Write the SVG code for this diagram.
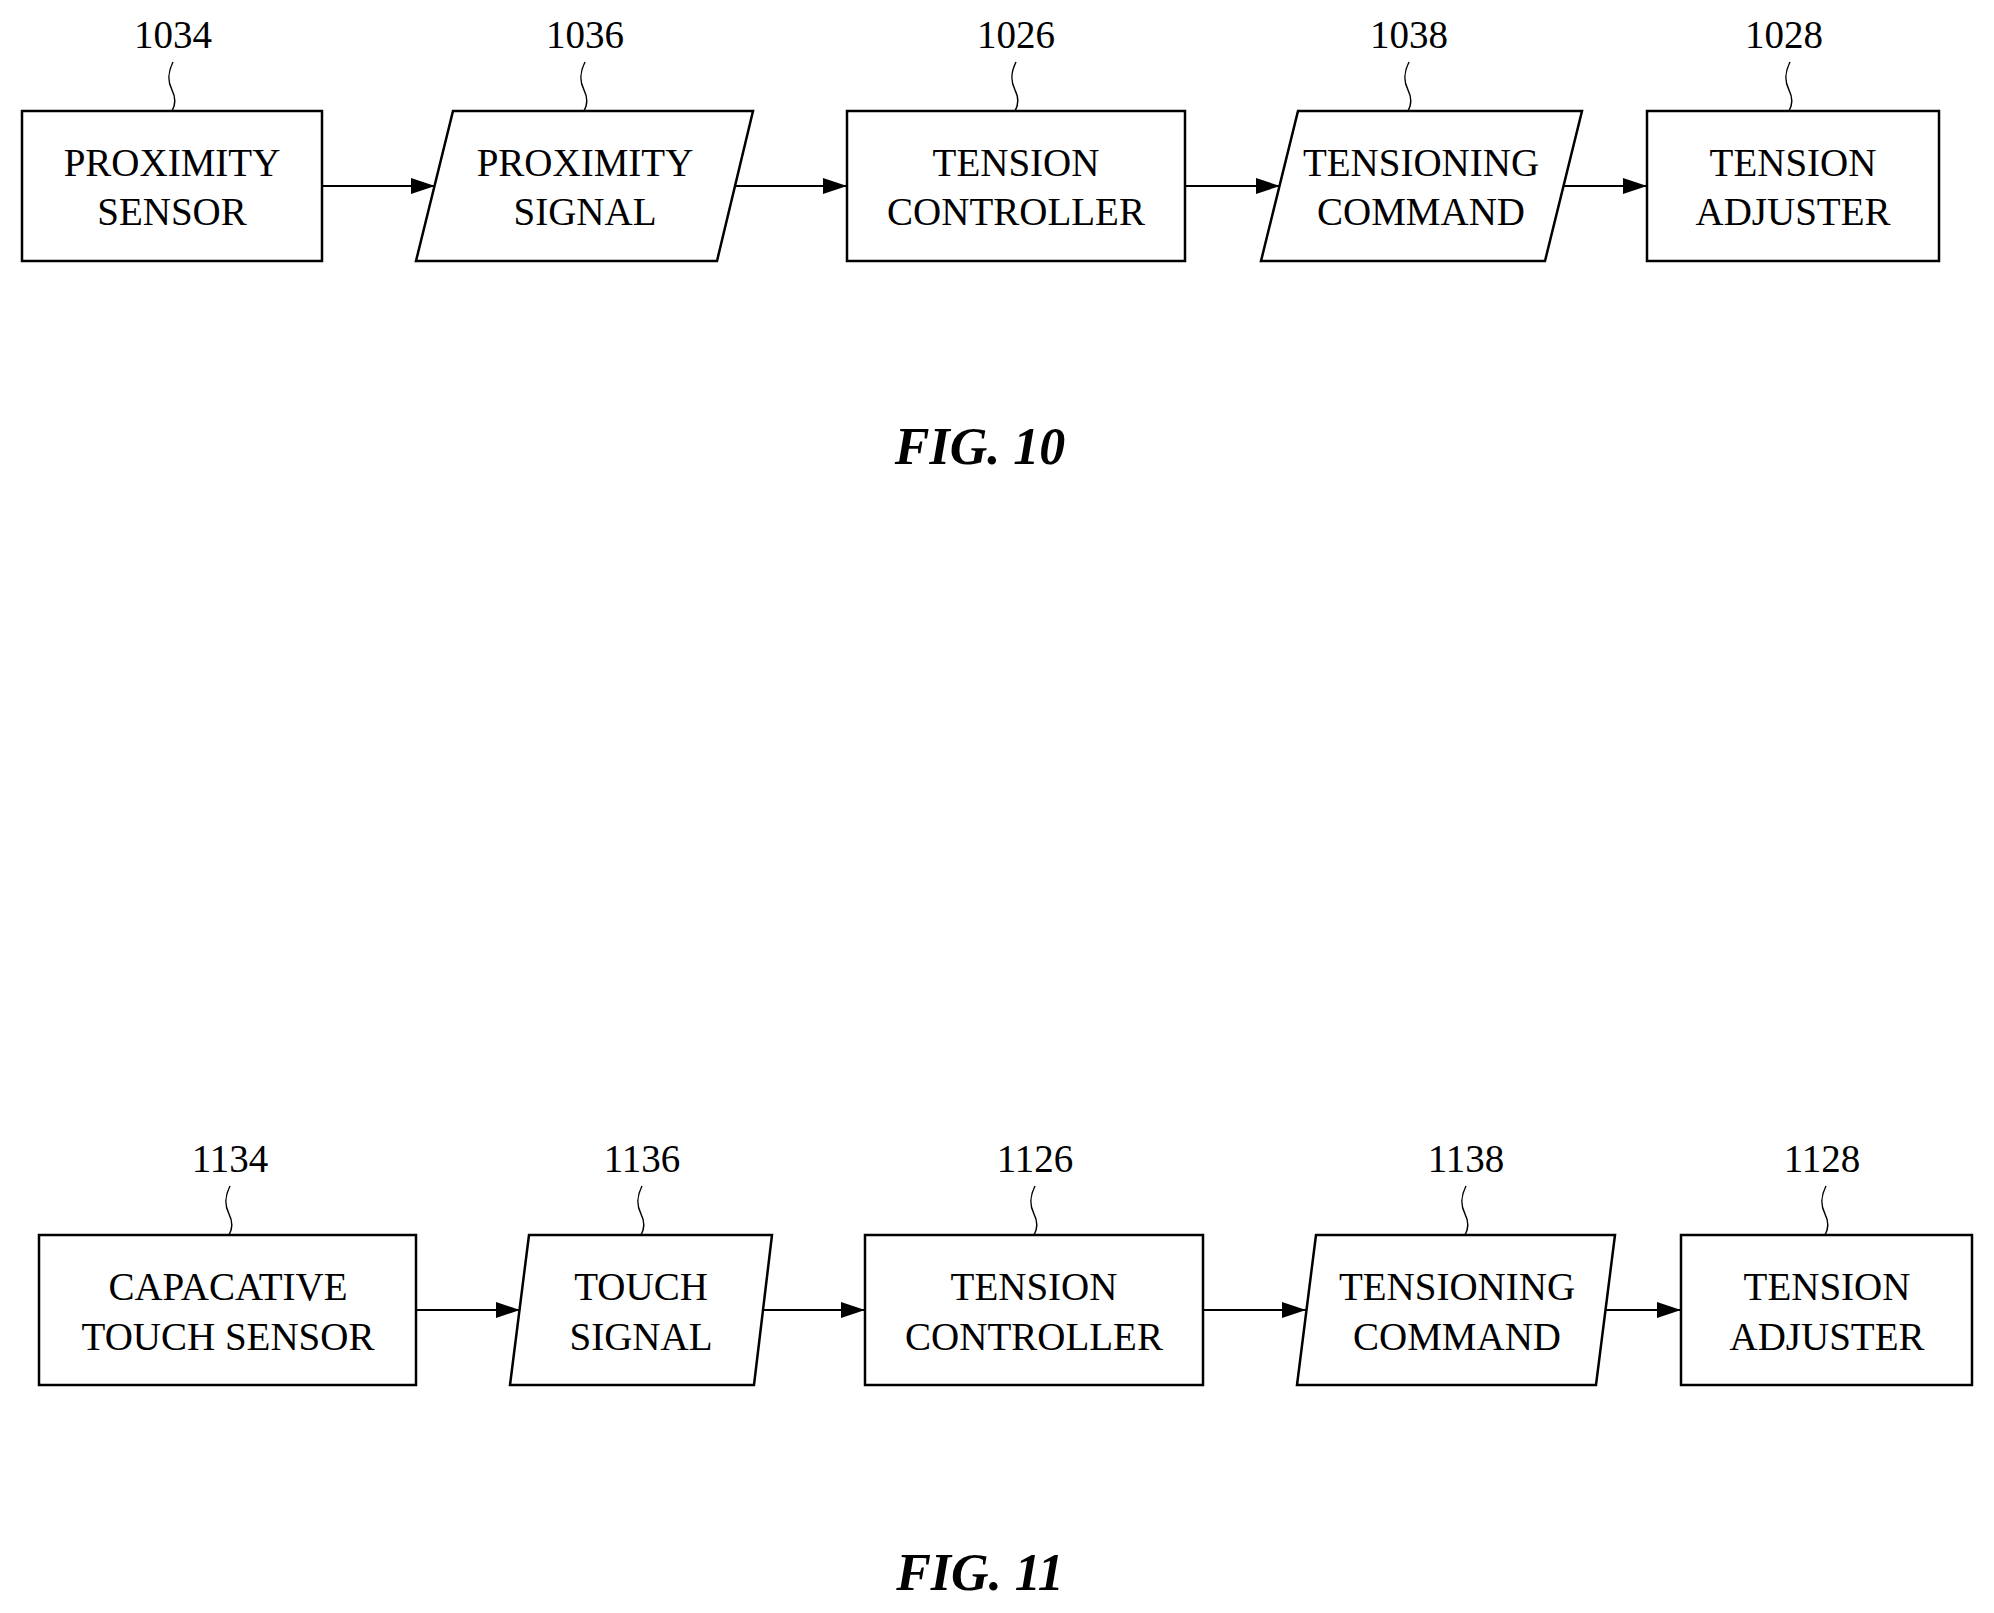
<svg xmlns="http://www.w3.org/2000/svg" width="1994" height="1613" viewBox="0 0 1994 1613">
<style>
.s{fill:#fff;stroke:#000;stroke-width:2.5}
.t{font-family:"Liberation Serif",serif;font-size:39px;text-anchor:middle}
.n{font-family:"Liberation Serif",serif;font-size:39px;text-anchor:middle}
.l{fill:none;stroke:#000;stroke-width:1.5}
.c{stroke:#000;stroke-width:2;marker-end:url(#a)}
.f{font-family:"Liberation Serif",serif;font-size:52px;font-weight:bold;font-style:italic;text-anchor:middle}
</style>
<defs><marker id="a" markerWidth="24" markerHeight="16" refX="24" refY="8" orient="auto" markerUnits="userSpaceOnUse"><path d="M0,0 L24,8 L0,16 Z"/></marker></defs>
<rect width="1994" height="1613" fill="#fff"/>
<g id="n1034"><path class="l" d="M173,62 c-6,12 -5,20 -1,28 s4,14 0,21"/><text class="n" x="173" y="48">1034</text><rect class="s" x="22" y="111" width="300" height="150"/><text class="t" x="172" y="176">PROXIMITY</text><text class="t" x="172" y="225">SENSOR</text></g>
<g id="n1036"><path class="l" d="M585,62 c-6,12 -5,20 -1,28 s4,14 0,21"/><text class="n" x="585" y="48">1036</text><polygon class="s" points="453,111 753,111 717,261 416,261"/><text class="t" x="585" y="176">PROXIMITY</text><text class="t" x="585" y="225">SIGNAL</text></g>
<g id="n1026"><path class="l" d="M1016,62 c-6,12 -5,20 -1,28 s4,14 0,21"/><text class="n" x="1016" y="48">1026</text><rect class="s" x="847" y="111" width="338" height="150"/><text class="t" x="1016" y="176">TENSION</text><text class="t" x="1016" y="225">CONTROLLER</text></g>
<g id="n1038"><path class="l" d="M1409,62 c-6,12 -5,20 -1,28 s4,14 0,21"/><text class="n" x="1409" y="48">1038</text><polygon class="s" points="1298,111 1582,111 1545,261 1261,261"/><text class="t" x="1421" y="176">TENSIONING</text><text class="t" x="1421" y="225">COMMAND</text></g>
<g id="n1028"><path class="l" d="M1790,62 c-6,12 -5,20 -1,28 s4,14 0,21"/><text class="n" x="1784" y="48">1028</text><rect class="s" x="1647" y="111" width="292" height="150"/><text class="t" x="1793" y="176">TENSION</text><text class="t" x="1793" y="225">ADJUSTER</text></g>
<text class="f" x="980" y="464">FIG. 10</text>
<g id="n1134"><path class="l" d="M230,1186 c-6,12 -5,20 -1,28 s4,14 0,21"/><text class="n" x="230" y="1172">1134</text><rect class="s" x="39" y="1235" width="377" height="150"/><text class="t" x="228" y="1300">CAPACATIVE</text><text class="t" x="228" y="1350">TOUCH SENSOR</text></g>
<g id="n1136"><path class="l" d="M642,1186 c-6,12 -5,20 -1,28 s4,14 0,21"/><text class="n" x="642" y="1172">1136</text><polygon class="s" points="529,1235 772,1235 754,1385 510,1385"/><text class="t" x="641" y="1300">TOUCH</text><text class="t" x="641" y="1350">SIGNAL</text></g>
<g id="n1126"><path class="l" d="M1035,1186 c-6,12 -5,20 -1,28 s4,14 0,21"/><text class="n" x="1035" y="1172">1126</text><rect class="s" x="865" y="1235" width="338" height="150"/><text class="t" x="1034" y="1300">TENSION</text><text class="t" x="1034" y="1350">CONTROLLER</text></g>
<g id="n1138"><path class="l" d="M1466,1186 c-6,12 -5,20 -1,28 s4,14 0,21"/><text class="n" x="1466" y="1172">1138</text><polygon class="s" points="1316,1235 1615,1235 1596,1385 1297,1385"/><text class="t" x="1457" y="1300">TENSIONING</text><text class="t" x="1457" y="1350">COMMAND</text></g>
<g id="n1128"><path class="l" d="M1826,1186 c-6,12 -5,20 -1,28 s4,14 0,21"/><text class="n" x="1822" y="1172">1128</text><rect class="s" x="1681" y="1235" width="291" height="150"/><text class="t" x="1827" y="1300">TENSION</text><text class="t" x="1827" y="1350">ADJUSTER</text></g>
<text class="f" x="980" y="1590">FIG. 11</text>
<g id="connectors">
<line class="c" x1="322" y1="186" x2="435" y2="186"/>
<line class="c" x1="735" y1="186" x2="847" y2="186"/>
<line class="c" x1="1185" y1="186" x2="1280" y2="186"/>
<line class="c" x1="1564" y1="186" x2="1647" y2="186"/>
<line class="c" x1="416" y1="1310" x2="520" y2="1310"/>
<line class="c" x1="763" y1="1310" x2="865" y2="1310"/>
<line class="c" x1="1203" y1="1310" x2="1306" y2="1310"/>
<line class="c" x1="1605" y1="1310" x2="1681" y2="1310"/>
</g>
</svg>
